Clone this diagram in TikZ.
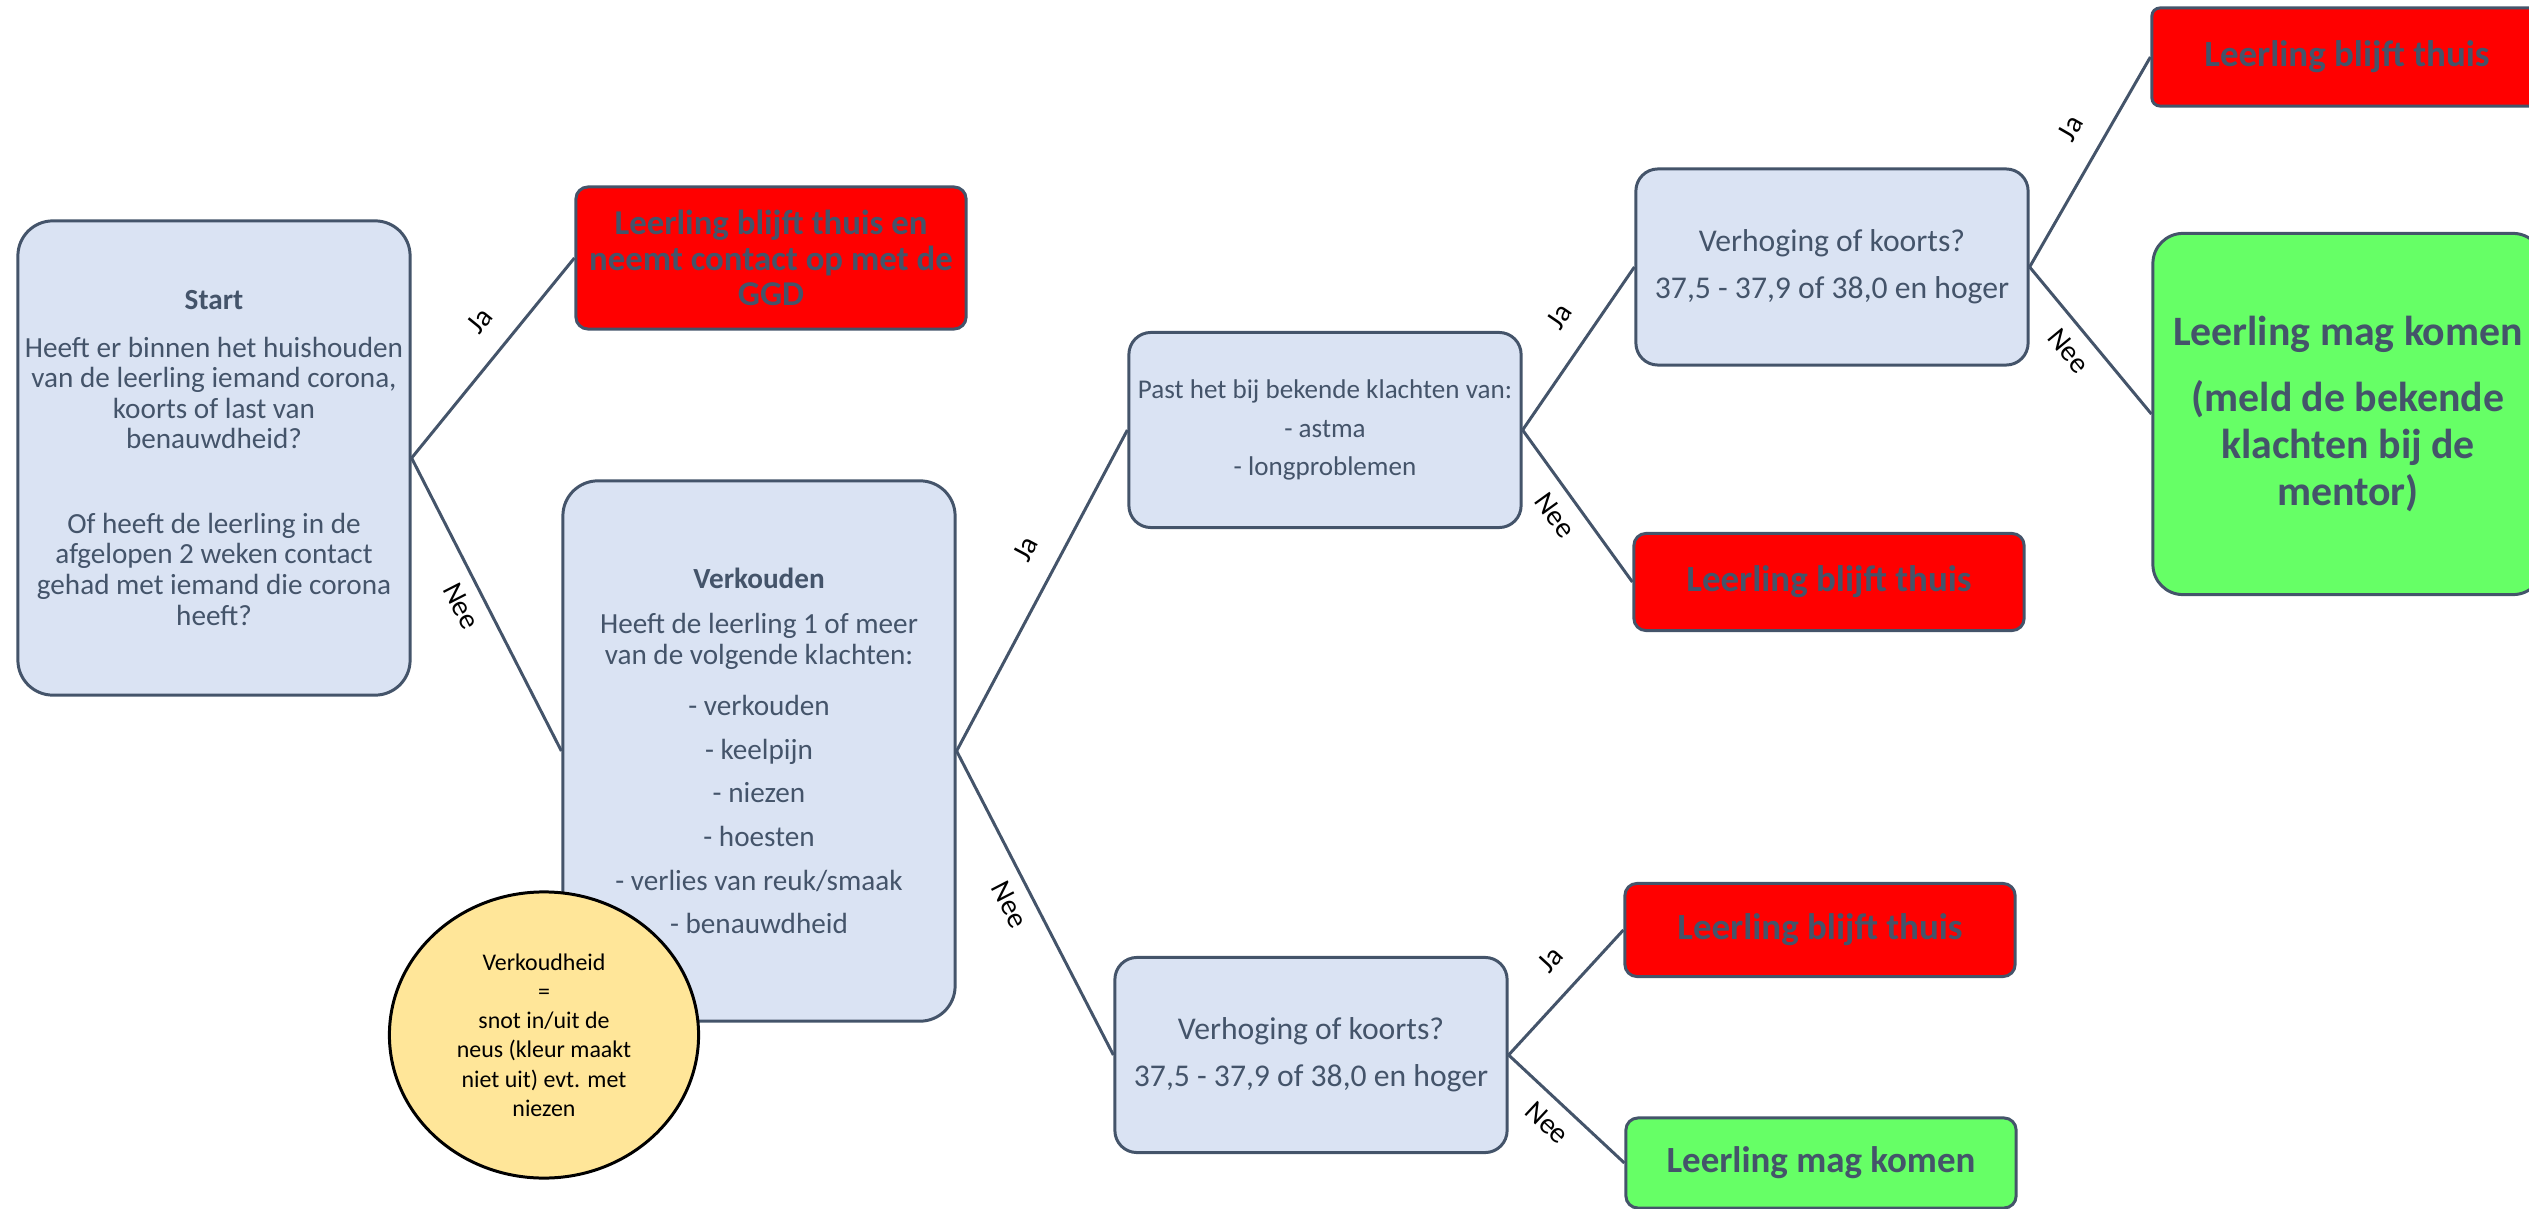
\documentclass[tikz,border=0pt]{standalone}
\usepackage{fontspec}
\setmainfont{Carlito}
\usetikzlibrary{shapes.geometric}

\definecolor{tekst}{HTML}{44546A}
\definecolor{lichtblauw}{HTML}{DAE3F3}
\definecolor{rood}{HTML}{FF0000}
\definecolor{groen}{HTML}{66FF66}
\definecolor{geel}{HTML}{FFE699}

\begin{document}
\begin{tikzpicture}[x=0.01cm, y=-0.01cm,
  lijn/.style={draw=tekst, line width=0.85pt},
  vak/.style={draw=tekst, line width=0.85pt, text=tekst, align=center, inner sep=0pt},
  vraag/.style={vak, fill=lichtblauw, minimum width=3.92cm, rounded corners=0.22cm, font=\fontsize{9}{10.8}\selectfont},
  thuis/.style={vak, fill=rood, minimum width=3.9cm, rounded corners=0.12cm, font=\fontsize{10.5}{12.6}\selectfont\bfseries},
  komen/.style={vak, fill=groen, minimum width=3.9cm, rounded corners=0.12cm, font=\fontsize{10.5}{12.6}\selectfont\bfseries},
  ja/.style={pos=0.58, above=5.5pt, sloped, inner sep=1pt, font=\fontsize{8.3}{10}\selectfont},
  nee/.style={pos=0.47, below=2.5pt, sloped, inner sep=1pt, font=\fontsize{8.3}{10}\selectfont}
]
\useasboundingbox (0,0) rectangle (2529,1209);

\node[vraag, minimum height=4.74cm, rounded corners=0.35cm, font=\fontsize{8.3}{8.7}\selectfont] (start) at (214,458)
  {{\bfseries Start}\\[4.7pt]
   Heeft er binnen het huishouden\\
   van de leerling iemand corona,\\
   koorts of last van\\
   benauwdheid?\\[15.3pt]
   Of heeft de leerling in de\\
   afgelopen 2 weken contact\\
   gehad met iemand die corona\\
   heeft?};
\node[thuis, minimum height=1.42cm, font=\fontsize{9.9}{10.1}\selectfont\bfseries] (ggd) at (771,258)
  {Leerling blijft thuis en\\neemt contact op met de\\GGD};

\node[vraag, minimum height=5.4cm, rounded corners=0.35cm, font=\fontsize{8.3}{8.7}\selectfont] (verkouden) at (759,751)
  {{\bfseries Verkouden}\\[4.1pt]
   Heeft de leerling 1 of meer\\
   van de volgende klachten:\\[6pt]
   - verkouden\\[3.7pt]
   - keelpijn\\[3.7pt]
   - niezen\\[3.7pt]
   - hoesten\\[3.7pt]
   - verlies van reuk/smaak\\[3.7pt]
   - benauwdheid};
\node[ellipse, draw=black, line width=0.85pt, fill=geel, minimum width=3.09cm, minimum height=2.86cm,
  align=center, inner sep=0pt, font=\fontsize{6.8}{8.3}\selectfont] (verkoudheid) at (544,1035)
  {Verkoudheid\\=\\snot in/uit de\\neus (kleur maakt\\niet uit) evt. met\\niezen};

\node[vraag, minimum height=1.95cm, font=\fontsize{7.7}{9.4}\selectfont] (astma) at (1325,430)
  {Past het bij bekende klachten van:\\[1.6pt]- astma\\[1.6pt]- longproblemen};
\node[vraag, minimum height=1.96cm] (koorts1) at (1832,267)
  {Verhoging of koorts?\\[2.5pt]37,5 - 37,9 of 38,0 en hoger};
\node[thuis, minimum height=0.97cm] (thuis2) at (1829,582) {Leerling blijft thuis};

\node[thuis, minimum height=0.98cm, rounded corners=0.08cm] (thuis1) at (2347,57) {Leerling blijft thuis};
\node[komen, minimum height=3.61cm, rounded corners=0.3cm, font=\fontsize{11.9}{13.4}\selectfont\bfseries] (mentor) at (2348,414)
  {Leerling mag komen\\[5.4pt](meld de bekende\\klachten bij de\\mentor)};

\node[vraag, minimum height=1.95cm] (koorts2) at (1311,1055)
  {Verhoging of koorts?\\[2.5pt]37,5 - 37,9 of 38,0 en hoger};
\node[thuis, minimum height=0.93cm] (thuis3) at (1820,930) {Leerling blijft thuis};
\node[komen, minimum height=0.9cm] (komen2) at (1821,1163) {Leerling mag komen};

\draw[lijn] (start.east) -- node[ja] {Ja} (ggd.west);
\draw[lijn] (start.east) -- node[nee] {Nee} (verkouden.west);

\draw[lijn] (verkouden.east) -- node[ja] {Ja} (astma.west);
\draw[lijn] (verkouden.east) -- node[nee] {Nee} (koorts2.west);

\draw[lijn] (astma.east) -- node[ja] {Ja} (koorts1.west);
\draw[lijn] (astma.east) -- node[nee] {Nee} (thuis2.west);

\draw[lijn] (koorts1.east) -- node[ja] {Ja} (thuis1.west);
\draw[lijn] (koorts1.east) -- node[nee] {Nee} (mentor.west);

\draw[lijn] (koorts2.east) -- node[ja] {Ja} (thuis3.west);
\draw[lijn] (koorts2.east) -- node[nee] {Nee} (komen2.west);

\end{tikzpicture}
\end{document}
